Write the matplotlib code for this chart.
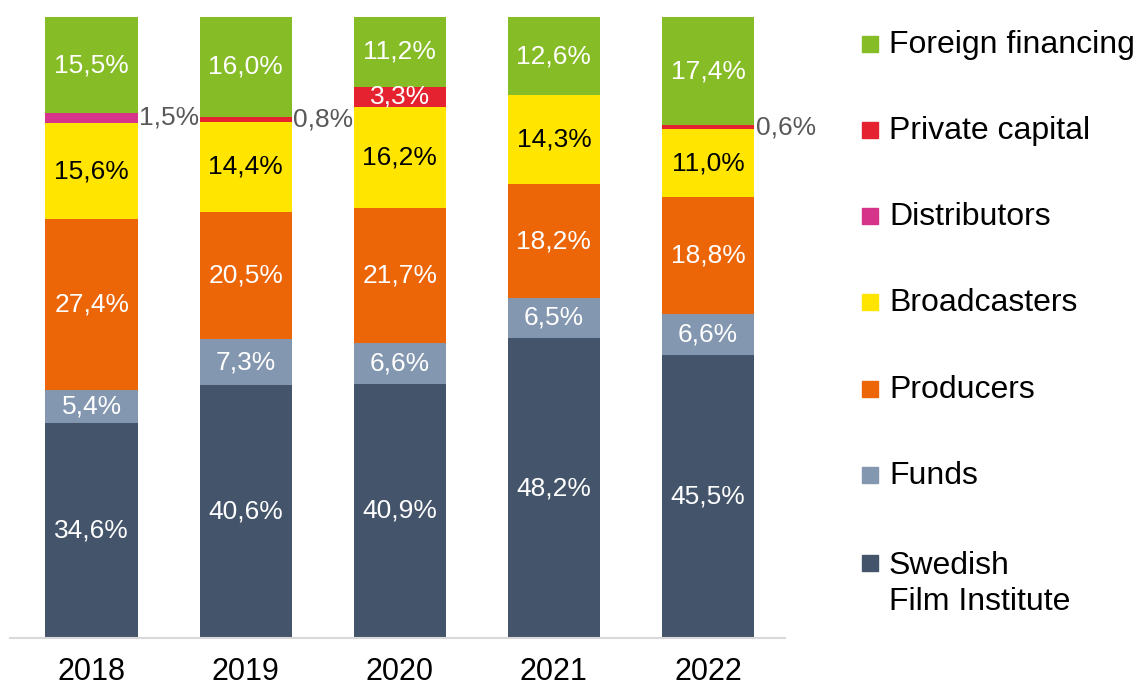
import matplotlib.pyplot as plt
from matplotlib.patches import Rectangle
import numpy as np

years = ['2018', '2019', '2020', '2021', '2022']
categories = ['Swedish\nFilm Institute', 'Funds', 'Producers', 'Broadcasters',
              'Distributors', 'Private capital', 'Foreign financing']
sfi = [34.6, 40.6, 40.9, 48.2, 45.5]
funds = [5.4, 7.3, 6.6, 6.5, 6.6]
producers = [27.4, 20.5, 21.7, 18.2, 18.8]
broadcasters = [15.6, 14.4, 16.2, 14.3, 11.0]
distributors = [1.5, 0, 0, 0, 0]
private = [0, 0.8, 3.3, 0, 0.6]
foreign = [15.5, 16.0, 11.2, 12.6, 17.4]

series = [sfi, funds, producers, broadcasters, distributors, private, foreign]
colors = ['#44546A', '#8497B0', '#EC6608', '#FFE500', '#D6338A', '#E52330', '#86BC25']
text_colors = ['white', 'white', 'white', 'black', 'white', 'white', 'white']

plt.rcParams['font.family'] = ['Liberation Sans', 'DejaVu Sans']

fig = plt.figure(figsize=(11.37, 6.9), dpi=100)
ax = fig.add_axes([10 / 1137, 52 / 690, 775 / 1137, 621 / 690])

x = np.arange(len(years))
# 100% stacked: scale each column to its total
totals = np.sum(np.array(series), axis=0)
scale = 100 / totals
bottom = np.zeros(len(years))
for vals, col, tc in zip(series, colors, text_colors):
    vals = np.array(vals)
    h = vals * scale
    ax.bar(x, h, 0.6, bottom=bottom, color=col, edgecolor='none')
    for i, v in enumerate(vals):
        if v <= 0:
            continue
        label = f'{v:.1f}%'.replace('.', ',')
        yc = bottom[i] + h[i] / 2
        if v < 2:
            ax.text(x[i] + 0.31, yc, label, ha='left', va='center',
                    fontsize=19, color='#595959')
        else:
            ax.text(x[i], yc, label, ha='center', va='center',
                    fontsize=19, color=tc)
    bottom += h

ax.set_xlim(-0.53, 4.5)
ax.set_ylim(0, 100)
ax.set_yticks([])
ax.set_xticks(x)
ax.set_xticklabels(years, fontsize=22)
ax.tick_params(axis='x', length=0, pad=14)
for s in ['top', 'right', 'left']:
    ax.spines[s].set_visible(False)
ax.spines['bottom'].set_color('#D9D9D9')
ax.spines['bottom'].set_linewidth(1.5)

# legend (top to bottom = reverse of stack)
leg_y = [44, 130, 216, 302, 389, 475, 563]
for lab, col, yy in zip(categories[::-1], colors[::-1], leg_y):
    fig.patches.append(Rectangle((862 / 1137, 1 - (yy + 8) / 690), 16 / 1137, 16 / 690,
                                 transform=fig.transFigure, color=col))
    if '\n' in lab:
        fig.text(889 / 1137, 1 - (yy - 12) / 690, lab, fontsize=23, ha='left', va='top',
                 linespacing=1.25)
    else:
        fig.text(889 / 1137, 1 - (yy + 1) / 690, lab, fontsize=23, ha='left', va='center')

fig.savefig('out.png', dpi=100)
